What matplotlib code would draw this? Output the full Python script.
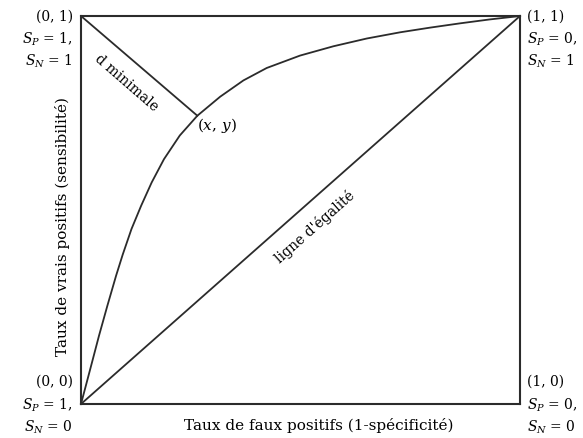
import matplotlib.pyplot as plt
import numpy as np

plt.rcParams['font.family'] = ['DejaVu Serif']
plt.rcParams['mathtext.fontset'] = 'dejavuserif'

# courbe ROC (taux de faux positifs, taux de vrais positifs)
roc_x = [0.0, 0.011, 0.025, 0.041, 0.060, 0.080, 0.095, 0.115, 0.137, 0.161, 0.189, 0.225,
         0.265, 0.317, 0.370, 0.423, 0.499, 0.575, 0.651, 0.727, 0.795, 0.863, 0.930, 1.0]
roc_y = [0.0, 0.047, 0.107, 0.176, 0.253, 0.331, 0.385, 0.451, 0.511, 0.571, 0.631, 0.692,
         0.743, 0.792, 0.834, 0.866, 0.898, 0.922, 0.942, 0.958, 0.970, 0.981, 0.991, 1.0]

# point optimal (x, y) et coin ideal (0, 1)
pt_opt = (0.265, 0.743)
coin_ideal = (0.0, 1.0)

coins = {
    'tl': ['(0, 1)', '$S_P$ = 1,', '$S_N$ = 1'],
    'tr': ['(1, 1)', '$S_P$ = 0,', '$S_N$ = 1'],
    'bl': ['(0, 0)', '$S_P$ = 1,', '$S_N$ = 0'],
    'br': ['(1, 0)', '$S_P$ = 0,', '$S_N$ = 0'],
}

W, H = 583, 439
fig = plt.figure(figsize=(W / 100, H / 100), dpi=100)
x0, x1, y0, y1 = 81, 520, 17, 405
ax = fig.add_axes([x0 / W, 1 - y1 / H, (x1 - x0) / W, (y1 - y0) / H])
ax.set_xlim(0, 1)
ax.set_ylim(0, 1)
ax.set_xticks([])
ax.set_yticks([])
for s in ax.spines.values():
    s.set_linewidth(1.5)
    s.set_color('#2b2b2b')

lc = '#2b2b2b'
ax.plot(roc_x, roc_y, color=lc, lw=1.3, clip_on=False, solid_joinstyle='round')
ax.plot([0, 1], [0, 1], color=lc, lw=1.3, clip_on=False)
ax.plot([coin_ideal[0], pt_opt[0]], [coin_ideal[1], pt_opt[1]], color=lc, lw=1.3)

fs = 10
def px(x, y):
    return x / W, 1 - y / H

ax.text(*px(126, 83), 'd minimale', transform=fig.transFigure, rotation=-41,
        ha='center', va='center', fontsize=fs)
ax.text(*px(197, 126), '$(x,\\, y)$', transform=fig.transFigure,
        ha='left', va='center', fontsize=fs + 1)
ax.text(*px(315, 227), "ligne d'égalité", transform=fig.transFigure, rotation=41.5,
        ha='center', va='center', fontsize=fs)

ys_top = [17, 39, 61]
ys_bot = [382, 405, 427]
for key, ys, xp, ha in [('tl', ys_top, 73, 'right'), ('tr', ys_top, 527, 'left'),
                        ('bl', ys_bot, 73, 'right'), ('br', ys_bot, 527, 'left')]:
    for txt, yp in zip(coins[key], ys):
        fig.text(*px(xp, yp), txt, ha=ha, va='center', fontsize=fs)

fig.text(*px(319, 426), 'Taux de faux positifs (1-spécificité)', ha='center',
         va='center', fontsize=11)
fig.text(*px(63, 226), 'Taux de vrais positifs (sensibilité)', ha='center',
         va='center', rotation=90, fontsize=11)

fig.savefig('out.png', dpi=100)
